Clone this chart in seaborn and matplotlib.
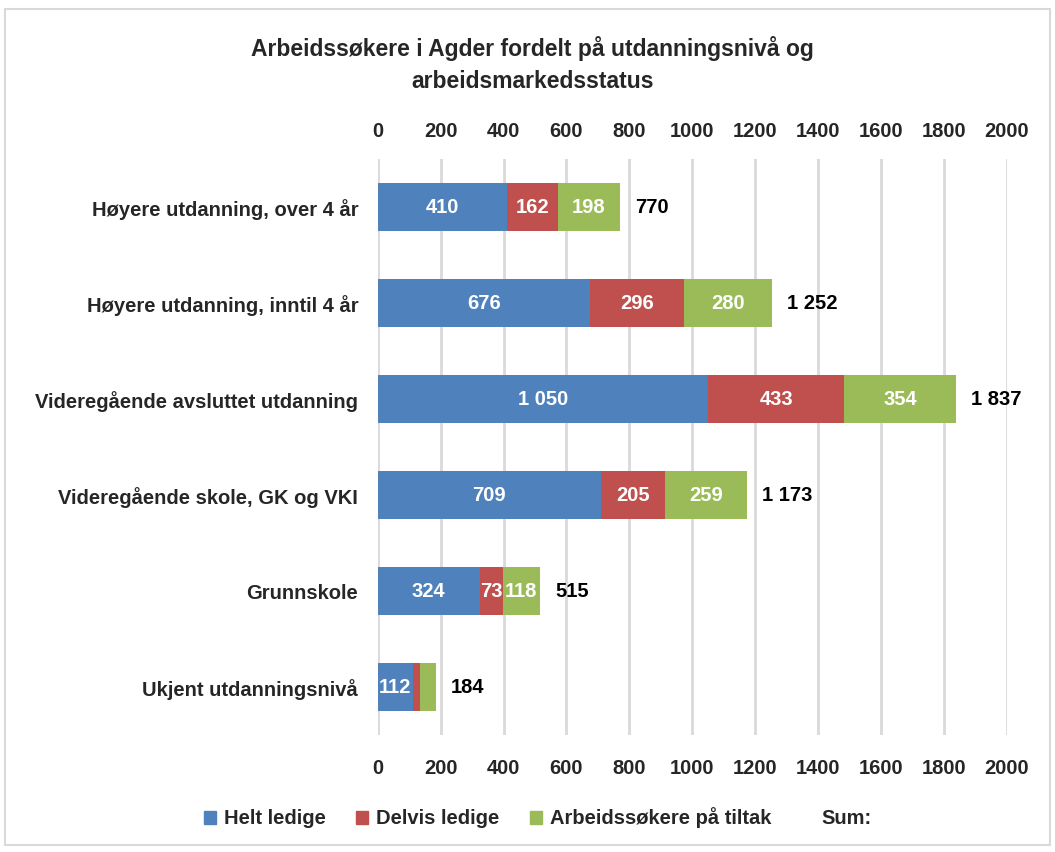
import matplotlib
matplotlib.use("Agg")
import matplotlib.pyplot as plt
import matplotlib.transforms as mtransforms
from matplotlib.patches import Patch, Rectangle
import seaborn as sns
import pandas as pd
import numpy as np

# data
categories = ["Høyere utdanning, over 4 år",
              "Høyere utdanning, inntil 4 år",
              "Videregående avsluttet utdanning",
              "Videregående skole, GK og VKI",
              "Grunnskole",
              "Ukjent utdanningsnivå"]
helt = [410, 676, 1050, 709, 324, 112]
delvis = [162, 296, 433, 205, 73, 24]
tiltak = [198, 280, 354, 259, 118, 48]
series_names = ["Helt ledige", "Delvis ledige", "Arbeidssøkere på tiltak"]
colors = ["#4F81BD", "#C0504D", "#9BBB59"]
ticks = np.arange(0, 2001, 200)

df = pd.DataFrame({"kat": categories, "helt": helt, "delvis": delvis, "tiltak": tiltak})
df["c1"] = df["helt"]
df["c2"] = df["helt"] + df["delvis"]
df["sum"] = df["c2"] + df["tiltak"]


def fmt(v):
    return f"{v:,}".replace(",", " ")


sns.set_style("white")
plt.rcParams["font.family"] = ["Liberation Sans", "DejaVu Sans"]
plt.rcParams["font.weight"] = "bold"
FS = 14.5

fig = plt.figure(figsize=(10.55, 8.52), dpi=100)
ax = fig.add_axes([0.358, 0.137, 0.5965, 0.676])

# stacked bars by overlaying cumulative totals
for col, c in zip(["sum", "c2", "c1"], colors[::-1]):
    sns.barplot(data=df, y="kat", x=col, orient="h", color=c, width=0.5,
                saturation=1, linewidth=0, ax=ax, zorder=3)

ax.set_xlim(0, 2000)
ax.set_xticks(ticks)
ax.set_ylabel("")
ax.set_xlabel("")
ax.tick_params(axis="x", which="both", length=0, labelsize=FS, pad=13,
               top=True, labeltop=True, bottom=True, labelbottom=True)
ax.tick_params(axis="y", length=0, labelsize=FS, pad=14)
for lab in ax.get_xticklabels() + ax.get_yticklabels():
    lab.set_fontweight("bold")
# push the bottom tick labels a little lower
shift = mtransforms.ScaledTranslation(0, -4 / 72, fig.dpi_scale_trans)
for t in ax.xaxis.get_major_ticks():
    t.label1.set_transform(t.label1.get_transform() + shift)
ax.grid(axis="x", color="#d9d9d9", linewidth=2, zorder=0)
ax.set_axisbelow(True)
for s in ax.spines.values():
    s.set_visible(False)

# segment labels
for i, row in df.iterrows():
    segs = [(0, row["helt"]), (row["c1"], row["delvis"]), (row["c2"], row["tiltak"])]
    for j, (start, w) in enumerate(segs):
        if w < 60:
            continue
        ax.text(start + w / 2, i, fmt(int(w)), ha="center", va="center",
                color="white", fontsize=FS, fontweight="bold", zorder=5)
    ax.annotate(fmt(int(row["sum"])), (row["sum"], i), xytext=(11, 0),
                textcoords="offset points", ha="left", va="center",
                fontsize=FS, fontweight="bold", color="black")

fig.suptitle("Arbeidssøkere i Agder fordelt på utdanningsnivå og\narbeidsmarkedsstatus",
             x=0.505, y=0.958, fontsize=16.5, fontweight="bold", linespacing=1.5)

handles = [Patch(color=c) for c in colors] + [Patch(facecolor="none", edgecolor="none")]
fig.legend(handles, series_names + ["Sum:"], loc="center", bbox_to_anchor=(0.51, 0.04),
           ncol=4, frameon=False, handlelength=0.6, handleheight=0.6,
           handletextpad=0.4, columnspacing=1.5, prop={"weight": "bold", "size": FS})

fig.patches.append(Rectangle((0.005, 0.008), 0.99, 0.982, transform=fig.transFigure,
                             fill=False, edgecolor="#d9d9d9", linewidth=1.5))

fig.savefig("out.png", dpi=100)
